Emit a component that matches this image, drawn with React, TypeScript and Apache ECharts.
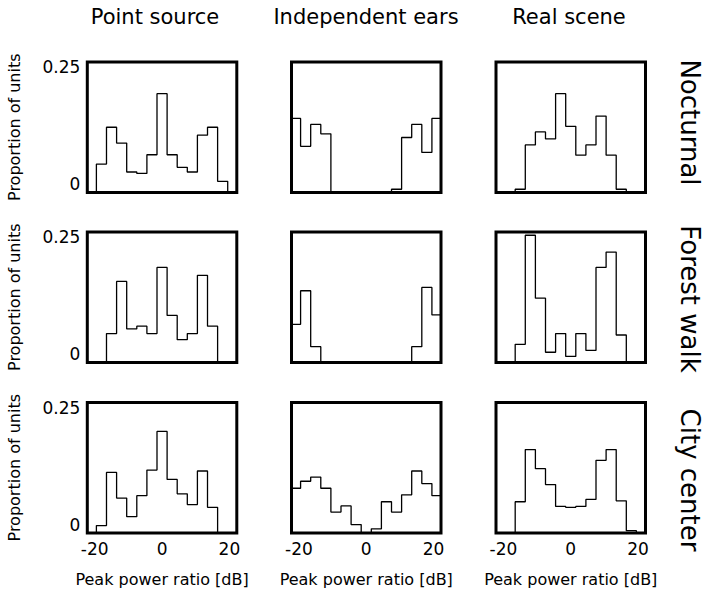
import React, { useEffect, useRef } from 'react';
import * as echarts from 'echarts';

const COLUMN_TITLES = ['Point source', 'Independent ears', 'Real scene'];
const ROW_TITLES = ['Nocturnal', 'Forest walk', 'City center'];
const BIN_CENTERS = [-21, -18, -15, -12, -9, -6, -3, 0, 3, 6, 9, 12, 15, 18, 21];
const BIN_WIDTH = 3;
const X_TICKS = [-20, 0, 20];
const Y_TICKS = [0, 0.25];
const Y_TICK_LABELS = ['0', '0.25'];
const X_NAME = 'Peak power ratio [dB]';
const Y_NAME = 'Proportion of units';

// Nocturnal
const nocturnalPoint = [0, 0.061, 0.14, 0.106, 0.044, 0.041, 0.081, 0.212, 0.081, 0.054, 0.044, 0.123, 0.14, 0.024, 0];
const nocturnalEars = [0.159, 0.099, 0.146, 0.126, 0, 0, 0, 0, 0, 0, 0.007, 0.118, 0.146, 0.086, 0.159];
const nocturnalReal = [0, 0, 0.007, 0.102, 0.13, 0.115, 0.212, 0.142, 0.08, 0.102, 0.164, 0.08, 0.007, 0, 0];
// Forest walk
const forestPoint = [0, 0, 0.062, 0.174, 0.072, 0.078, 0.062, 0.204, 0.101, 0.049, 0.062, 0.187, 0.078, 0, 0];
const forestEars = [0.082, 0.154, 0.034, 0, 0, 0, 0, 0, 0, 0, 0, 0, 0.034, 0.161, 0.102];
const forestReal = [0, 0, 0.039, 0.273, 0.138, 0.022, 0.062, 0.013, 0.062, 0.026, 0.204, 0.237, 0.059, 0, 0];
// City center
const cityPoint = [0, 0.016, 0.13, 0.075, 0.035, 0.08, 0.135, 0.218, 0.115, 0.084, 0.061, 0.133, 0.055, 0, 0];
const cityEars = [0.096, 0.111, 0.12, 0.096, 0.045, 0.058, 0.018, 0, 0.009, 0.067, 0.045, 0.082, 0.133, 0.106, 0.08];
const cityReal = [0, 0, 0.067, 0.179, 0.138, 0.104, 0.057, 0.055, 0.057, 0.072, 0.156, 0.179, 0.069, 0.005, 0];

const PANELS = [
  [nocturnalPoint, nocturnalEars, nocturnalReal],
  [forestPoint, forestEars, forestReal],
  [cityPoint, cityEars, cityReal],
];

const FONT = 'DejaVu Sans';
const GRID_LEFTS = [87.3, 291.5, 496];
const GRID_TOPS = [62, 232, 402.5];
const GRID_W = 149.5;
const GRID_H = 130.5;
const COL_TITLE_X = [155, 366, 569];
const ROW_LABEL_Y = [122.5, 299, 480];

function stepData(values: number[]) {
  const pts: [number, number][] = BIN_CENTERS.map((c, i) => [c - BIN_WIDTH / 2, values[i]]);
  const lastC = BIN_CENTERS[BIN_CENTERS.length - 1];
  pts.push([lastC + BIN_WIDTH / 2, values[values.length - 1]]);
  return pts;
}

export default function App() {
  const ref = useRef<HTMLDivElement>(null);
  useEffect(() => {
    if (!ref.current) return;
    const chart = echarts.init(ref.current, null, { renderer: 'svg' });
    const grid: any[] = [];
    const xAxis: any[] = [];
    const yAxis: any[] = [];
    const series: any[] = [];
    PANELS.forEach((row, r) => {
      row.forEach((vals, c) => {
        const k = r * 3 + c;
        grid.push({
          left: GRID_LEFTS[c],
          top: GRID_TOPS[r],
          width: GRID_W,
          height: GRID_H,
          show: true,
          borderColor: '#000',
          borderWidth: 3,
          backgroundColor: 'transparent',
        });
        const bottom = r === 2;
        const leftCol = c === 0;
        xAxis.push({
          type: 'value',
          gridIndex: k,
          min: -22.2,
          max: 22.2,
          axisLine: { show: false },
          axisTick: { show: false },
          splitLine: { show: false },
          axisLabel: {
            show: bottom,
            customValues: X_TICKS,
            color: '#000',
            fontFamily: FONT,
            fontSize: 17,
            margin: 7,
            formatter: (v: number) => String(v),
          },
          name: bottom ? X_NAME : '',
          nameLocation: 'middle',
          nameGap: 38,
          nameTextStyle: { color: '#000', fontFamily: FONT, fontSize: 16 },
        });
        yAxis.push({
          type: 'value',
          gridIndex: k,
          min: 0,
          max: 0.28,
          axisLine: { show: false },
          axisTick: { show: false },
          splitLine: { show: false },
          axisLabel: {
            show: leftCol,
            customValues: Y_TICKS,
            color: '#000',
            fontFamily: FONT,
            fontSize: 17,
            margin: 7,
            verticalAlign: 'bottom',
            formatter: (v: number) => Y_TICK_LABELS[Y_TICKS.indexOf(v)] ?? '',
          },
          name: leftCol ? Y_NAME : '',
          nameLocation: 'middle',
          nameGap: 65,
          nameTextStyle: { color: '#000', fontFamily: FONT, fontSize: 16 },
        });
        series.push({
          type: 'line',
          xAxisIndex: k,
          yAxisIndex: k,
          step: 'end',
          symbol: 'none',
          silent: true,
          lineStyle: { color: '#000', width: 1.3 },
          data: stepData(vals),
        });
      });
    });
    const graphic: any[] = [];
    COLUMN_TITLES.forEach((t, c) => {
      graphic.push({
        type: 'text',
        x: COL_TITLE_X[c],
        y: 17,
        style: {
          text: t,
          fill: '#000',
          font: `21px "${FONT}"`,
          textAlign: 'center',
          textVerticalAlign: 'middle',
        },
      });
    });
    ROW_TITLES.forEach((t, r) => {
      graphic.push({
        type: 'text',
        x: 690,
        y: ROW_LABEL_Y[r],
        rotation: -Math.PI / 2,
        style: {
          text: t,
          fill: '#000',
          font: `26px "${FONT}"`,
          textAlign: 'center',
          textVerticalAlign: 'middle',
        },
      });
    });
    chart.setOption({
      animation: false,
      backgroundColor: '#fff',
      grid,
      xAxis,
      yAxis,
      series,
      graphic,
    });
    return () => chart.dispose();
  }, []);
  return (
    <div
      ref={ref}
      style={{ position: 'fixed', left: 0, top: 0, width: 712, height: 595 }}
    />
  );
}
